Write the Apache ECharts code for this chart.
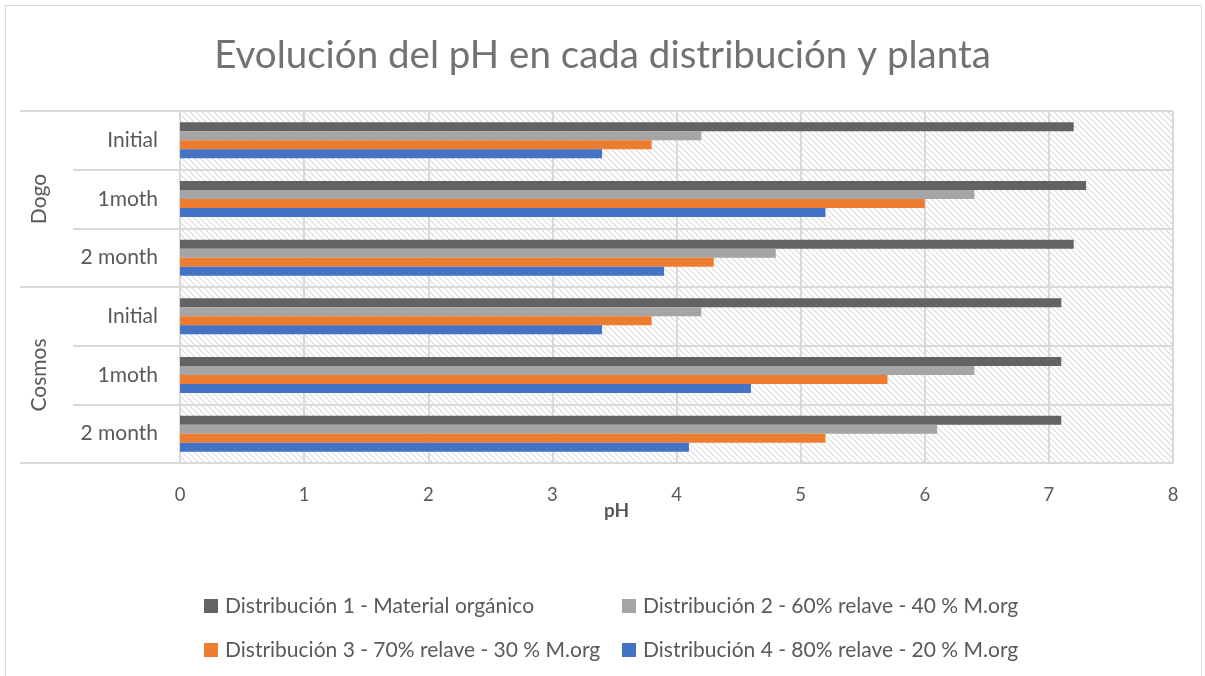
<!DOCTYPE html>
<html>
<head>
<meta charset="utf-8">
<script src="https://cdn.jsdelivr.net/npm/echarts@6/dist/echarts.min.js"></script>
<style>
  html, body { margin: 0; padding: 0; background: #fff; }
  #chart { width: 1205px; height: 676px; }
</style>
</head>
<body>
<div id="chart"></div>
<script>
// plantas y etapas (de arriba hacia abajo)
const plantas = ['Dogo', 'Cosmos'];
const etapas = ['Initial', '1moth', '2 month'];
const xTicks = [0, 1, 2, 3, 4, 5, 6, 7, 8];

const nombresSeries = [
    'Distribución 1 - Material orgánico',
    'Distribución 2 - 60% relave - 40 % M.org',
    'Distribución 3 - 70% relave - 30 % M.org',
    'Distribución 4 - 80% relave - 20 % M.org'
];
const colores = ['#636363', '#a5a5a5', '#ed7d31', '#4472c4'];

// pH por categoria: Dogo Initial, Dogo 1moth, Dogo 2 month, Cosmos Initial, Cosmos 1moth, Cosmos 2 month
const dist1 = [7.2, 7.3, 7.2, 7.1, 7.1, 7.1];
const dist2 = [4.2, 6.4, 4.8, 4.2, 6.4, 6.1];
const dist3 = [3.8, 6.0, 4.3, 3.8, 5.7, 5.2];
const dist4 = [3.4, 5.2, 3.9, 3.4, 4.6, 4.1];

// categorias unicas "planta|etapa"
const categorias = [];
plantas.forEach(p => etapas.forEach(e => categorias.push(p + '|' + e)));

// patron de fondo con rayas diagonales
function crearPatron() {
    const c = document.createElement('canvas');
    c.width = 6;
    c.height = 6;
    const ctx = c.getContext('2d');
    ctx.fillStyle = '#ffffff';
    ctx.fillRect(0, 0, 6, 6);
    ctx.strokeStyle = '#dcdcdc';
    ctx.lineWidth = 1.2;
    ctx.beginPath();
    ctx.moveTo(-1, -1); ctx.lineTo(7, 7);
    ctx.moveTo(-4, 2); ctx.lineTo(2, 8);
    ctx.moveTo(2, -4); ctx.lineTo(8, 2);
    ctx.stroke();
    return c;
}

const fuente = 'Lato, "Open Sans", sans-serif';
const gris = '#595959';
const lineaGris = '#d9d9d9';

const datos = [dist1, dist2, dist3, dist4];

function leyenda(left, items) {
    return {
        orient: 'vertical',
        left: left,
        top: 589,
        itemGap: 20,
        itemWidth: 14,
        itemHeight: 14,
        icon: 'rect',
        data: items,
        textStyle: { fontFamily: fuente, fontSize: 21, lineHeight: 24, color: gris, padding: [0, 0, 0, 2] }
    };
}

var option = {
    animation: false,
    textStyle: { fontFamily: fuente },
    title: {
        text: 'Evolución del pH en cada distribución y planta',
        left: 'center',
        top: 31,
        textStyle: { fontFamily: fuente, fontSize: 38.5, fontWeight: 'normal', color: '#727272' }
    },
    graphic: [{
        type: 'rect',
        shape: { x: 5.5, y: 5.5, width: 1196, height: 680 },
        style: { fill: 'none', stroke: lineaGris, lineWidth: 1 },
        silent: true
    }],
    legend: [
        leyenda(199, [nombresSeries[0], nombresSeries[2]]),
        leyenda(617, [nombresSeries[1], nombresSeries[3]])
    ],
    grid: {
        left: 180,
        right: 32,
        top: 111,
        bottom: 213,
        show: true,
        borderWidth: 0,
        backgroundColor: { image: crearPatron(), repeat: 'repeat' }
    },
    xAxis: {
        type: 'value',
        min: xTicks[0],
        max: xTicks[xTicks.length - 1],
        interval: 1,
        name: 'pH',
        nameLocation: 'middle',
        nameGap: 38,
        nameMoveOverlap: false,
        nameTextStyle: { fontFamily: fuente, fontSize: 19, fontWeight: 'bold', color: gris, padding: [0, 120, 0, 0] },
        axisLine: { show: false },
        axisTick: { show: false },
        axisLabel: { color: gris, fontSize: 18.5, margin: 23 },
        splitLine: { lineStyle: { color: lineaGris, width: 2 } }
    },
    yAxis: [
        {
            type: 'category',
            inverse: true,
            data: categorias,
            axisLine: { show: true, lineStyle: { color: lineaGris, width: 2 } },
            axisTick: { show: true, length: 107, lineStyle: { color: lineaGris, width: 2 } },
            axisLabel: {
                color: gris,
                fontSize: 21,
                margin: 22,
                formatter: v => v.split('|')[1]
            },
            splitLine: { show: true, lineStyle: { color: lineaGris, width: 2 } }
        },
        {
            type: 'category',
            inverse: true,
            position: 'left',
            data: plantas,
            axisLine: { show: false },
            axisTick: { show: true, length: 160, lineStyle: { color: lineaGris, width: 2 } },
            axisLabel: { show: true, color: gris, fontSize: 21, rotate: 90, margin: 130 },
            splitLine: { show: false }
        }
    ],
    series: nombresSeries.map((nombre, i) => ({
        name: nombre,
        type: 'bar',
        yAxisIndex: 0,
        data: datos[i],
        barWidth: 9,
        barGap: '0%',
        itemStyle: { color: colores[i] }
    }))
};

var chart = echarts.init(document.getElementById('chart'));
chart.setOption(option);
</script>
</body>
</html>
